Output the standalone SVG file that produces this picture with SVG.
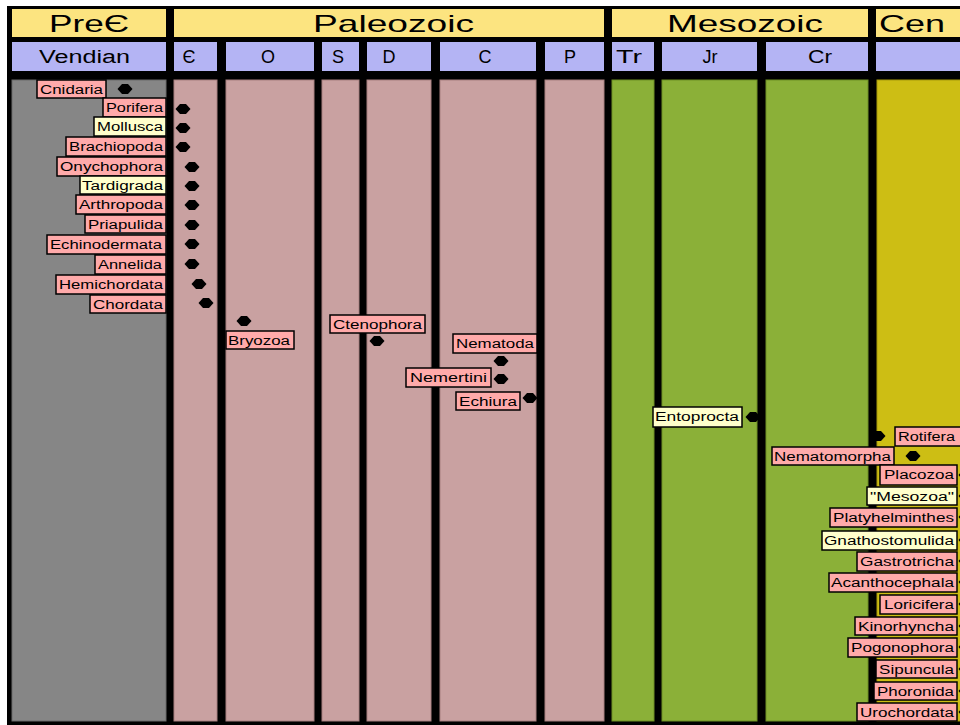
<svg xmlns="http://www.w3.org/2000/svg" width="960" height="725" viewBox="0 0 960 725">
<style>
.era{fill:#FCE480;}
.per{fill:#B4B4F4;}
.h1{font-family:"Liberation Sans",Arial,sans-serif;font-size:24px;fill:#000;}
.h2{font-family:"Liberation Sans",Arial,sans-serif;font-size:18px;fill:#000;text-anchor:middle;}
.col{stroke-width:1;}
.pre{fill:#868686;stroke:#6a6a6a;}
.pal{fill:#C9A1A1;stroke:#a88080;}
.mes{fill:#8BB038;stroke:#6e8f25;}
.cen{fill:#CDBE14;stroke:#a89a0a;}
.lp{fill:#FFAAAA;stroke:#000;stroke-width:1.5;}
.ly{fill:#FFFFCC;stroke:#000;stroke-width:1.5;}
.t{font-family:"Liberation Sans",Arial,sans-serif;font-size:12px;fill:#000;}
.d{fill:#000;}
</style>
<defs>
<path id="dot" d="M-7.5,0 L-3,-5 L3,-5 L7.5,0 L3,5 L-3,5 Z"/>
</defs>
<rect x="0" y="0" width="960" height="725" fill="#fff"/>
<rect x="7" y="6" width="960" height="725" fill="#000"/>
<g id="headers">
<rect class="era" x="12" y="9" width="154" height="28"/>
<rect class="era" x="174" y="9" width="430" height="28"/>
<rect class="era" x="612" y="9" width="256" height="28"/>
<rect class="era" x="876" y="9" width="90" height="28"/>
<text class="h1" x="49" y="32" textLength="80" lengthAdjust="spacingAndGlyphs">PreЄ</text>
<text class="h1" x="313" y="32" textLength="161" lengthAdjust="spacingAndGlyphs">Paleozoic</text>
<text class="h1" x="667" y="32" textLength="156" lengthAdjust="spacingAndGlyphs">Mesozoic</text>
<text class="h1" x="879" y="32" textLength="66" lengthAdjust="spacingAndGlyphs">Cen</text>
<rect class="per" x="12" y="42" width="154" height="29"/>
<rect class="per" x="174" y="42" width="43" height="29"/>
<rect class="per" x="226" y="42" width="88" height="29"/>
<rect class="per" x="322" y="42" width="37" height="29"/>
<rect class="per" x="367" y="42" width="64" height="29"/>
<rect class="per" x="440" y="42" width="96" height="29"/>
<rect class="per" x="545" y="42" width="59" height="29"/>
<rect class="per" x="612" y="42" width="42" height="29"/>
<rect class="per" x="662" y="42" width="95" height="29"/>
<rect class="per" x="766" y="42" width="102" height="29"/>
<rect class="per" x="876" y="42" width="90" height="29"/>
<text class="h2" x="84.5" y="63" textLength="91" lengthAdjust="spacingAndGlyphs">Vendian</text>
<text class="h2" x="189" y="63">Є</text>
<text class="h2" x="268" y="63">O</text>
<text class="h2" x="338" y="63">S</text>
<text class="h2" x="389" y="63">D</text>
<text class="h2" x="485" y="63">C</text>
<text class="h2" x="570" y="63">P</text>
<text class="h2" x="629" y="63" textLength="26" lengthAdjust="spacingAndGlyphs">Tr</text>
<text class="h2" x="710" y="63">Jr</text>
<text class="h2" x="820" y="63" textLength="24" lengthAdjust="spacingAndGlyphs">Cr</text>
</g>
<g id="columns">
<rect class="col pre" x="12" y="80" width="154" height="641"/>
<rect class="col pal" x="174" y="80" width="43" height="641"/>
<rect class="col pal" x="226" y="80" width="88" height="641"/>
<rect class="col pal" x="322" y="80" width="37" height="641"/>
<rect class="col pal" x="367" y="80" width="64" height="641"/>
<rect class="col pal" x="440" y="80" width="96" height="641"/>
<rect class="col pal" x="545" y="80" width="59" height="641"/>
<rect class="col mes" x="612" y="80" width="42" height="641"/>
<rect class="col mes" x="662" y="80" width="95" height="641"/>
<rect class="col mes" x="766" y="80" width="102" height="641"/>
<rect class="col cen" x="877" y="80" width="90" height="641"/>
</g>
<g id="connectors"></g>
<g id="n-cnidaria"><rect class="lp" x="37" y="80" width="69" height="18"/><text class="t" x="40" y="94" textLength="63" lengthAdjust="spacingAndGlyphs">Cnidaria</text><use href="#dot" x="125" y="89"/></g>
<g id="n-porifera"><rect class="lp" x="103" y="98" width="63" height="19"/><text class="t" x="106" y="112" textLength="57" lengthAdjust="spacingAndGlyphs">Porifera</text><use href="#dot" x="183" y="109"/></g>
<g id="n-mollusca"><rect class="ly" x="94" y="117" width="72" height="19"/><text class="t" x="97" y="131" textLength="66" lengthAdjust="spacingAndGlyphs">Mollusca</text><use href="#dot" x="183" y="128"/></g>
<g id="n-brachiopoda"><rect class="lp" x="66" y="137" width="100" height="19"/><text class="t" x="69" y="151" textLength="94" lengthAdjust="spacingAndGlyphs">Brachiopoda</text><use href="#dot" x="183" y="147"/></g>
<g id="n-onychophora"><rect class="lp" x="57" y="157" width="109" height="19"/><text class="t" x="60" y="171" textLength="103" lengthAdjust="spacingAndGlyphs">Onychophora</text><use href="#dot" x="192" y="167"/></g>
<g id="n-tardigrada"><rect class="ly" x="80" y="176" width="86" height="18"/><text class="t" x="82" y="190" textLength="81" lengthAdjust="spacingAndGlyphs">Tardigrada</text><use href="#dot" x="192" y="186"/></g>
<g id="n-arthropoda"><rect class="lp" x="76" y="195" width="90" height="19"/><text class="t" x="79" y="209" textLength="84" lengthAdjust="spacingAndGlyphs">Arthropoda</text><use href="#dot" x="192" y="205"/></g>
<g id="n-priapulida"><rect class="lp" x="85" y="215" width="81" height="18"/><text class="t" x="88" y="229" textLength="75" lengthAdjust="spacingAndGlyphs">Priapulida</text><use href="#dot" x="192" y="225"/></g>
<g id="n-echinodermata"><rect class="lp" x="47" y="235" width="119" height="19"/><text class="t" x="50" y="249" textLength="112" lengthAdjust="spacingAndGlyphs">Echinodermata</text><use href="#dot" x="192" y="244"/></g>
<g id="n-annelida"><rect class="lp" x="95" y="255" width="71" height="19"/><text class="t" x="98" y="269" textLength="64" lengthAdjust="spacingAndGlyphs">Annelida</text><use href="#dot" x="192" y="264"/></g>
<g id="n-hemichordata"><rect class="lp" x="56" y="275" width="110" height="19"/><text class="t" x="59" y="289" textLength="104" lengthAdjust="spacingAndGlyphs">Hemichordata</text><use href="#dot" x="199" y="284"/></g>
<g id="n-chordata"><rect class="lp" x="90" y="295" width="76" height="18"/><text class="t" x="93" y="309" textLength="70" lengthAdjust="spacingAndGlyphs">Chordata</text><use href="#dot" x="206" y="303"/></g>
<g id="n-bryozoa"><rect class="lp" x="226" y="331" width="68" height="18"/><text class="t" x="228" y="345" textLength="62" lengthAdjust="spacingAndGlyphs">Bryozoa</text><use href="#dot" x="244" y="321"/></g>
<g id="n-ctenophora"><rect class="lp" x="330" y="315" width="95" height="18"/><text class="t" x="333" y="329" textLength="89" lengthAdjust="spacingAndGlyphs">Ctenophora</text><use href="#dot" x="377" y="341"/></g>
<g id="n-nematoda"><rect class="lp" x="453" y="334" width="84" height="19"/><text class="t" x="456" y="348" textLength="78" lengthAdjust="spacingAndGlyphs">Nematoda</text><use href="#dot" x="501" y="361"/></g>
<g id="n-nemertini"><rect class="lp" x="406" y="368" width="85" height="19"/><text class="t" x="410" y="382" textLength="77" lengthAdjust="spacingAndGlyphs">Nemertini</text><use href="#dot" x="501" y="379"/></g>
<g id="n-echiura"><rect class="lp" x="456" y="392" width="64" height="18"/><text class="t" x="459" y="406" textLength="58" lengthAdjust="spacingAndGlyphs">Echiura</text><use href="#dot" x="530" y="398"/></g>
<g id="n-entoprocta"><rect class="ly" x="653" y="407" width="89" height="20"/><text class="t" x="655" y="421" textLength="84" lengthAdjust="spacingAndGlyphs">Entoprocta</text><use href="#dot" x="753" y="417"/></g>
<g id="n-rotifera"><rect class="lp" x="895" y="427" width="70" height="19"/><text class="t" x="898" y="441" textLength="57" lengthAdjust="spacingAndGlyphs">Rotifera</text><use href="#dot" x="878" y="436"/></g>
<g id="n-nematomorpha"><rect class="lp" x="772" y="447" width="122" height="18"/><text class="t" x="774" y="461" textLength="117" lengthAdjust="spacingAndGlyphs">Nematomorpha</text><use href="#dot" x="913" y="456"/></g>
<g id="n-placozoa"><rect class="lp" x="880" y="465" width="77" height="20"/><text class="t" x="884" y="479" textLength="70" lengthAdjust="spacingAndGlyphs">Placozoa</text><use href="#dot" x="966" y="475"/></g>
<g id="n-mesozoa"><rect class="ly" x="867" y="487" width="90" height="18"/><text class="t" x="870" y="501" textLength="84" lengthAdjust="spacingAndGlyphs">"Mesozoa"</text><use href="#dot" x="966" y="496"/></g>
<g id="n-platyhelminthes"><rect class="lp" x="830" y="508" width="127" height="19"/><text class="t" x="833" y="522" textLength="121" lengthAdjust="spacingAndGlyphs">Platyhelminthes</text><use href="#dot" x="966" y="517"/></g>
<g id="n-gnathostomulida"><rect class="ly" x="822" y="531" width="135" height="19"/><text class="t" x="824" y="545" textLength="130" lengthAdjust="spacingAndGlyphs">Gnathostomulida</text><use href="#dot" x="966" y="540"/></g>
<g id="n-gastrotricha"><rect class="lp" x="857" y="552" width="100" height="19"/><text class="t" x="860" y="566" textLength="94" lengthAdjust="spacingAndGlyphs">Gastrotricha</text><use href="#dot" x="966" y="561"/></g>
<g id="n-acanthocephala"><rect class="lp" x="829" y="573" width="128" height="19"/><text class="t" x="831" y="587" textLength="123" lengthAdjust="spacingAndGlyphs">Acanthocephala</text><use href="#dot" x="966" y="582"/></g>
<g id="n-loricifera"><rect class="lp" x="880" y="595" width="77" height="19"/><text class="t" x="884" y="609" textLength="70" lengthAdjust="spacingAndGlyphs">Loricifera</text><use href="#dot" x="966" y="604"/></g>
<g id="n-kinorhyncha"><rect class="lp" x="855" y="617" width="102" height="18"/><text class="t" x="858" y="631" textLength="96" lengthAdjust="spacingAndGlyphs">Kinorhyncha</text><use href="#dot" x="966" y="626"/></g>
<g id="n-pogonophora"><rect class="lp" x="848" y="638" width="109" height="19"/><text class="t" x="851" y="652" textLength="103" lengthAdjust="spacingAndGlyphs">Pogonophora</text><use href="#dot" x="966" y="647"/></g>
<g id="n-sipuncula"><rect class="lp" x="876" y="660" width="81" height="18"/><text class="t" x="879" y="674" textLength="75" lengthAdjust="spacingAndGlyphs">Sipuncula</text><use href="#dot" x="966" y="669"/></g>
<g id="n-phoronida"><rect class="lp" x="874" y="682" width="83" height="18"/><text class="t" x="877" y="696" textLength="77" lengthAdjust="spacingAndGlyphs">Phoronida</text><use href="#dot" x="966" y="691"/></g>
<g id="n-urochordata"><rect class="lp" x="857" y="703" width="100" height="18"/><text class="t" x="860" y="717" textLength="94" lengthAdjust="spacingAndGlyphs">Urochordata</text><use href="#dot" x="966" y="712"/></g>
</svg>
